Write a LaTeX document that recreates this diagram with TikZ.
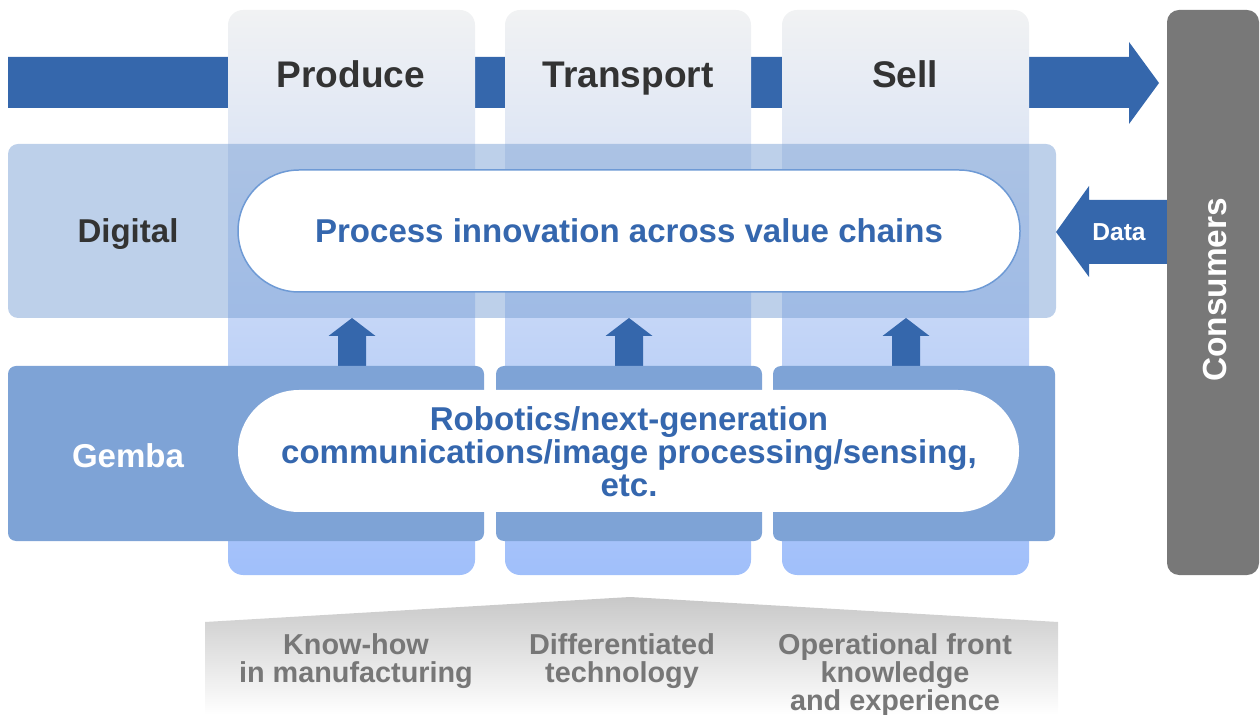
\documentclass[tikz,border=0pt]{standalone}
\usepackage{fontspec}
\setmainfont{Liberation Sans}
\begin{document}
\definecolor{flowblue}{HTML}{3567AC}
\definecolor{coltop}{HTML}{F1F2F3}
\definecolor{colbot}{HTML}{A0BFFA}
\definecolor{digiband}{HTML}{7BA1D5}
\definecolor{gembabox}{HTML}{7EA3D6}
\definecolor{pillline}{HTML}{6E9AD5}
\definecolor{textblue}{HTML}{3567AE}
\definecolor{darktext}{HTML}{333333}
\definecolor{consumergray}{HTML}{787878}
\definecolor{basegray}{HTML}{777777}
\definecolor{basetop}{HTML}{C8C8C8}
\begin{tikzpicture}[x=0.02cm,y=-0.02cm,
  column/.style={top color=coltop,bottom color=colbot,rounded corners=0.3cm},
  gembapanel/.style={fill=gembabox,rounded corners=0.16cm},
  pill/.style={fill=white,rounded corners=1.22cm},
  upblock/.style={fill=flowblue},
  headlabel/.style={inner sep=0,text=darktext,font=\fontsize{21.1}{24}\selectfont\bfseries,anchor=base},
  sidelabel/.style={inner sep=0,font=\fontsize{18.8}{22}\selectfont\bfseries,anchor=base},
  pilltext/.style={inner sep=0,text=textblue,font=\fontsize{18.8}{18.7}\selectfont\bfseries,align=center},
  basetext/.style={inner sep=0,text=basegray,font=\fontsize{16.4}{15.9}\selectfont\bfseries,align=center}]
\useasboundingbox (0,0) rectangle (1260,715);

% value chain flow arrow (behind the stage columns)
\fill[flowblue] (8,57) -- (1129,57) -- (1129,42) -- (1159,83) -- (1129,124) -- (1129,108) -- (8,108) -- cycle;

% data arrow from consumers
\fill[flowblue] (1167,200) -- (1089,200) -- (1089,186) -- (1056,232) -- (1089,277) -- (1089,264) -- (1167,264) -- cycle;

% stage columns
\shade[column] (228,10) rectangle (475,575);
\shade[column] (505,10) rectangle (751,575);
\shade[column] (782,10) rectangle (1029,575);

% digital layer
\fill[digiband,fill opacity=0.5,rounded corners=0.2cm] (8,144) rectangle (1056,318);
\draw[pillline,line width=0.85pt,pill] (238,170) rectangle (1020,292);

% upward arrows from gemba to digital
\foreach \cx in {352,629,906}{
  \fill[upblock] (\cx-14,366) -- (\cx-14,336) -- (\cx-23.5,336) -- (\cx,318) -- (\cx+23.5,336) -- (\cx+14,336) -- (\cx+14,366) -- cycle;
}

% gemba layer
\fill[gembapanel] (8,366) rectangle (484,541);
\fill[gembapanel] (496,366) rectangle (762,541);
\fill[gembapanel] (773,366) rectangle (1055,541);
\fill[pill] (238,390) rectangle (1019,512);

% consumers bar
\fill[consumergray,rounded corners=0.24cm] (1167,10) rectangle (1259,575);

% foundation
\shade[top color=basetop,bottom color=white] (205,622) -- (630,597) -- (1058,622) -- (1058,715) -- (205,715) -- cycle;

% labels
\node[headlabel] (produce) at (351,88) {Produce};
\node[headlabel] (transport) at (628,88) {Transport};
\node[headlabel] (sell) at (905,88) {Sell};

\node[sidelabel,text=darktext] (digital) at (128,243) {Digital};
\node[sidelabel,text=white] (gemba) at (128,468) {Gemba};
\node[sidelabel,text=textblue] (process) at (629,243) {Process innovation across value chains};
\node[pilltext] (tech) at (629,452) {Robotics/next-generation\\communications/image processing/sensing,\\etc.};

\node[inner sep=0,text=white,font=\fontsize{14}{16}\selectfont\bfseries,anchor=base] (data) at (1119,241) {Data};
\node[inner sep=0,text=white,font=\fontsize{19}{22}\selectfont\bfseries,rotate=90] (consumers) at (1215,290) {Consumers};

\node[basetext] (knowhow) at (356,661) {Know-how\\in manufacturing};
\node[basetext] (difftech) at (622,661) {Differentiated\\technology};
\node[basetext] (opfront) at (895,675) {Operational front\\knowledge\\and experience};
\end{tikzpicture}
\end{document}
